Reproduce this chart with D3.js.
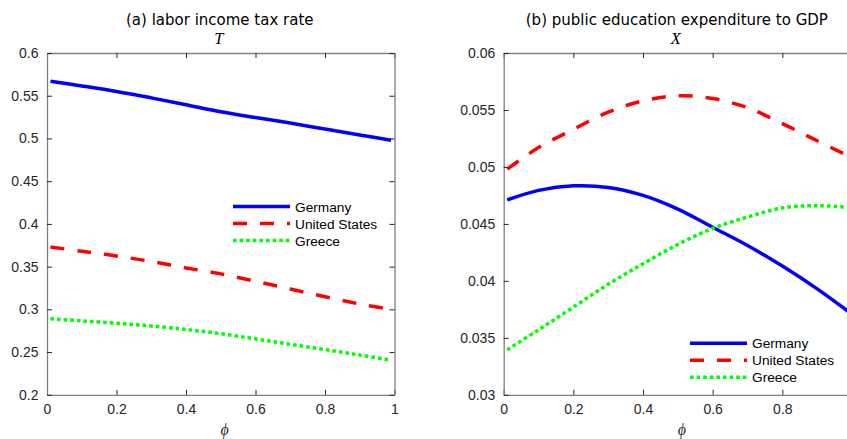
<!DOCTYPE html>
<html>
<head>
<meta charset="utf-8">
<script src="https://cdn.jsdelivr.net/npm/d3@7"></script>
<style>
  html, body { margin: 0; padding: 0; background: #fff; }
  svg { display: block; }
</style>
</head>
<body>
<svg id="chart" width="847" height="439"></svg>
<script>
// phi grid shared by every series
const phi = [0.01, 0.1, 0.2, 0.3, 0.4, 0.5, 0.6, 0.7, 0.8, 0.9, 0.99];

// (a) labor income tax rate T
const taxGermany = [0.567, 0.5615, 0.555, 0.5475, 0.5395, 0.5312, 0.5245, 0.518, 0.511, 0.504, 0.498];
const taxUS      = [0.373, 0.368, 0.3625, 0.356, 0.3485, 0.3415, 0.3328, 0.3238, 0.3148, 0.3062, 0.300];
const taxGreece  = [0.289, 0.2865, 0.2838, 0.2805, 0.2765, 0.2715, 0.2655, 0.259, 0.253, 0.2465, 0.2406];

// (b) public education expenditure to GDP X
const eduGermany = [0.0471, 0.04794, 0.04834, 0.0482, 0.0475, 0.0463, 0.0447, 0.0431, 0.0413, 0.0393, 0.0373];
const eduUS      = [0.0498, 0.0517, 0.0533, 0.0548, 0.0558, 0.05625, 0.0560, 0.0552, 0.0538, 0.0523, 0.05095];
const eduGreece  = [0.03395, 0.0357, 0.0377, 0.0397, 0.0415, 0.0432, 0.0446, 0.0456, 0.0464, 0.0466, 0.04645];

const countries = ["Germany", "United States", "Greece"];
const xTicks = [0, 0.2, 0.4, 0.6, 0.8, 1];
const xTickLabels = ["0", "0.2", "0.4", "0.6", "0.8", "1"];
const yTicksA = [0.2, 0.25, 0.3, 0.35, 0.4, 0.45, 0.5, 0.55, 0.6];
const yTickLabelsA = ["0.2", "0.25", "0.3", "0.35", "0.4", "0.45", "0.5", "0.55", "0.6"];
const yTicksB = [0.03, 0.035, 0.04, 0.045, 0.05, 0.055, 0.06];
const yTickLabelsB = ["0.03", "0.035", "0.04", "0.045", "0.05", "0.055", "0.06"];

const styles = [
  { color: "#0000ff", dash: null },
  { color: "#ff0000", dash: "14,13" },
  { color: "#00ff00", dash: "3.6,3" }
];

const W = 847, H = 439;
const svg = d3.select("#chart");
svg.append("rect").attr("width", W).attr("height", H).attr("fill", "#fff");

const titleFont = "'DejaVu Sans', sans-serif";
const tickFont = "'Liberation Sans', Arial, sans-serif";
const mathFont = "'Liberation Serif', 'DejaVu Serif', serif";

const panels = [
  {
    left: 47, right: 394.5, top: 53, bottom: 394.8,
    yDomain: [0.2, 0.6], yTicks: yTicksA, yLabels: yTickLabelsA,
    title: "(a) labor income tax rate", sym: "T",
    series: [taxGermany, taxUS, taxGreece],
    legend: { x0: 233, x1: 290, y: 206.5 }
  },
  {
    left: 503.7, right: 852, top: 53, bottom: 394.8,
    yDomain: [0.03, 0.06], yTicks: yTicksB, yLabels: yTickLabelsB,
    title: "(b) public education expenditure to GDP", sym: "X",
    series: [eduGermany, eduUS, eduGreece],
    legend: { x0: 690, x1: 747, y: 343.3 }
  }
];

panels.forEach(p => {
  const x = d3.scaleLinear().domain([0, 1]).range([p.left, p.right]);
  const y = d3.scaleLinear().domain(p.yDomain).range([p.bottom, p.top]);
  const g = svg.append("g");

  // series lines
  const line = d3.line()
    .x((d, i) => x(phi[i]))
    .y(d => y(d))
    .curve(d3.curveCatmullRom.alpha(0.5));
  p.series.forEach((vals, k) => {
    g.append("path")
      .datum(vals)
      .attr("d", line)
      .attr("fill", "none")
      .attr("stroke", styles[k].color)
      .attr("stroke-width", 3.5)
      .attr("stroke-dasharray", styles[k].dash)
      .attr("stroke-linejoin", "round");
  });

  // axes with inward ticks on all four sides
  const fmtX = d => xTickLabels[xTicks.indexOf(d)];
  const fmtY = d => p.yLabels[p.yTicks.indexOf(d)];
  const axes = [
    g.append("g").attr("transform", `translate(0,${p.bottom})`)
      .call(d3.axisBottom(x).tickValues(xTicks).tickFormat(fmtX).tickSizeInner(-5).tickSizeOuter(0).tickPadding(9)),
    g.append("g").attr("transform", `translate(0,${p.top})`)
      .call(d3.axisTop(x).tickValues(xTicks).tickFormat("").tickSizeInner(-5).tickSizeOuter(0)),
    g.append("g").attr("transform", `translate(${p.left},0)`)
      .call(d3.axisLeft(y).tickValues(p.yTicks).tickFormat(fmtY).tickSizeInner(-5).tickSizeOuter(0).tickPadding(8.5)),
    g.append("g").attr("transform", `translate(${p.right},0)`)
      .call(d3.axisRight(y).tickValues(p.yTicks).tickFormat("").tickSizeInner(-5).tickSizeOuter(0))
  ];
  axes.forEach(a => {
    a.select(".domain").attr("stroke", "#808080").attr("stroke-width", 1.3);
    a.selectAll(".tick line").attr("stroke", "#262626").attr("stroke-width", 1);
    a.selectAll(".tick text")
      .attr("fill", "#262626")
      .style("font-family", tickFont)
      .style("font-size", "14px");
  });
  // tick labels that fall past the drawing's right edge are not shown
  axes[0].selectAll(".tick").filter(d => x(d) > W).select("text").remove();

  const cx = (p.left + p.right) / 2;
  g.append("text")
    .attr("x", cx - 1).attr("y", 25)
    .attr("text-anchor", "middle")
    .style("font-family", titleFont).style("font-size", "15px")
    .attr("fill", "#000")
    .text(p.title);
  g.append("text")
    .attr("x", cx - 2).attr("y", 43.5)
    .attr("text-anchor", "middle")
    .style("font-family", mathFont).style("font-style", "italic").style("font-size", "16.5px")
    .attr("fill", "#000")
    .text(p.sym);
  g.append("text")
    .attr("x", cx + 4).attr("y", 435)
    .attr("text-anchor", "middle")
    .style("font-family", mathFont).style("font-style", "italic").style("font-size", "16px")
    .attr("fill", "#262626")
    .text("\u03D5");

  // legend
  countries.forEach((name, k) => {
    const ly = p.legend.y + k * 17;
    g.append("line")
      .attr("x1", p.legend.x0).attr("x2", p.legend.x1)
      .attr("y1", ly).attr("y2", ly)
      .attr("stroke", styles[k].color)
      .attr("stroke-width", 3.5)
      .attr("stroke-dasharray", styles[k].dash);
    g.append("text")
      .attr("x", p.legend.x1 + 5).attr("y", ly + 5)
      .style("font-family", tickFont).style("font-size", "13.7px")
      .attr("fill", "#000")
      .text(name);
  });
});
</script>
</body>
</html>
